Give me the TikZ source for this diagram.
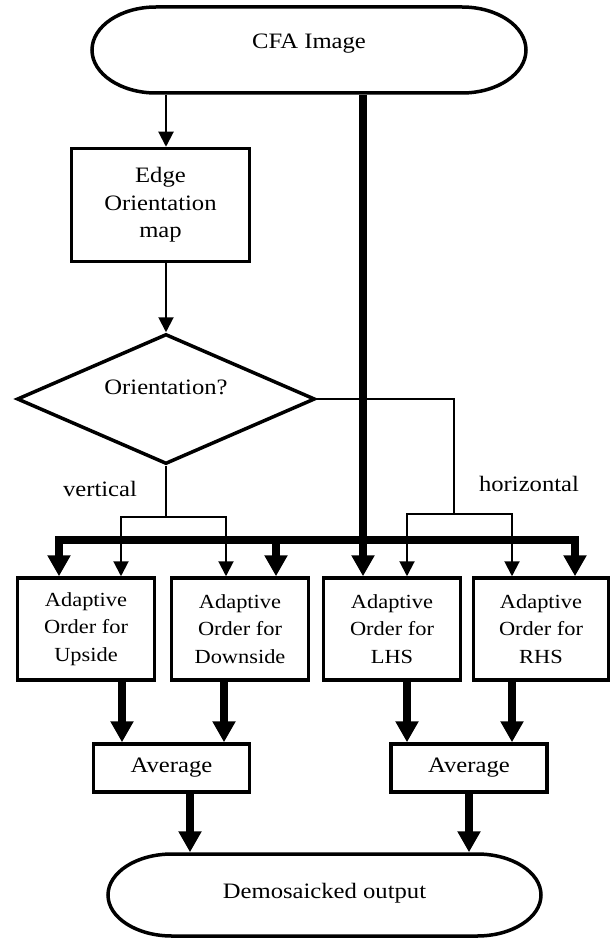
\documentclass[tikz,border=0pt]{standalone}
\usepackage{fontspec}
\setmainfont{Liberation Serif}[FakeStretch=1.12]
\usetikzlibrary{arrows.meta,shapes.geometric}
\begin{document}
\begin{tikzpicture}[x=1pt,y=1pt,
  boxnode/.style={draw, line width=3.5pt, rectangle, inner sep=0pt, align=center,
    font=\fontsize{20}{27.5}\selectfont},
  pillbox/.style={rectangle, inner sep=0pt, outer sep=1.75pt},
  pilline/.style={line width=3.5pt},
  thinline/.style={line width=2pt},
  thinarrow/.style={thinline, -{Triangle[width=15pt,length=15pt]}},
  thinboth/.style={thinline, {Triangle[width=15pt,length=15pt]}-{Triangle[width=15pt,length=15pt]}},
  thickline/.style={line width=7.5pt},
  thickarrow/.style={thickline, -{Triangle[width=22pt,length=21pt]}},
  thickboth/.style={thickline, {Triangle[width=22pt,length=21pt]}-{Triangle[width=22pt,length=21pt]}},
  txt/.style={font=\fontsize{22}{27.5}\selectfont, inner sep=0pt, anchor=base},
]
\useasboundingbox (0,0) rectangle (614,-939);

% top terminal
\node[pillbox, minimum width=434pt, minimum height=86pt] (cfa) at (309,-50) {};
\draw[pilline] (156,-7) -- (462,-7) arc[start angle=90,end angle=-90,x radius=64pt,y radius=43pt]
  -- (156,-93) arc[start angle=270,end angle=90,x radius=64pt,y radius=43pt] -- cycle;
\node[txt] (cfatext) at (309,-49) {CFA Image};

% edge orientation map
\node[boxnode, minimum width=178pt, minimum height=113pt,
  font=\fontsize{22}{27.5}\selectfont] (edge) at (160.5,-205) {Edge\\Orientation\\map};

% decision
\node[diamond, draw, line width=3.5pt, minimum width=298pt, minimum height=130pt,
  inner sep=0pt, shape aspect=2.3] (dia) at (166,-399) {};
\node[txt] (diatext) at (166,-394) {Orientation?};

% processing boxes
\node[boxnode, minimum width=137pt, minimum height=102pt] (b1) at (86,-629) {Adaptive\\Order for\\Upside};
\node[boxnode, minimum width=137pt, minimum height=102pt] (b2) at (240,-629) {Adaptive\\Order for\\Downside};
\node[boxnode, minimum width=137pt, minimum height=102pt] (b3) at (392,-629) {Adaptive\\Order for\\LHS};
\node[boxnode, minimum width=135pt, minimum height=102pt] (b4) at (541,-629) {Adaptive\\Order for\\RHS};

% averages
\node[boxnode, minimum width=156pt, minimum height=48pt, font=\fontsize{22}{27.5}\selectfont] (avg1) at (171.5,-768) {Average};
\node[boxnode, minimum width=156pt, minimum height=48pt, font=\fontsize{22}{27.5}\selectfont] (avg2) at (469,-768) {Average};

% bottom terminal
\node[pillbox, minimum width=433pt, minimum height=82pt] (out) at (324.5,-895) {};
\draw[pilline] (172,-854) -- (477,-854) arc[start angle=90,end angle=-90,x radius=64pt,y radius=41pt]
  -- (172,-936) arc[start angle=270,end angle=90,x radius=64pt,y radius=41pt] -- cycle;
\node[txt] (outtext) at (324.5,-898) {Demosaicked output};

% labels
\node[txt] (vlab) at (100,-496) {vertical};
\node[txt] (hlab) at (529,-491) {horizontal};

% coordinates
\coordinate (busL) at (59,-540);
\coordinate (busR) at (575,-540);
\coordinate (trunk) at (363,-540);
\coordinate (b2in) at (276,-540);
\coordinate (vj) at (166,-517);
\coordinate (vL) at (121,-517);
\coordinate (vR) at (226,-517);
\coordinate (hj) at (454,-399);
\coordinate (hjb) at (454,-514);
\coordinate (hL) at (407,-514);
\coordinate (hR) at (512,-514);

% thin connectors
\draw[thinarrow] (cfa.south -| dia.north) -- (edge.north -| dia.north);
\draw[thinarrow] (edge.south -| dia.north) -- (dia.north);
\draw[thinline] (dia.south) -- (vj);
\draw[thinboth] (vL |- b1.north) -- (vL) -- (vR) -- (vR |- b2.north);
\draw[thinline] (dia.east) -- (hj) -- (hjb);
\draw[thinboth] (hL |- b3.north) -- (hL) -- (hR) -- (hR |- b4.north);

% thick connectors
\draw[thickarrow] (cfa.south -| trunk) -- (b3.north -| trunk);
\draw[thickboth] (b1.north -| busL) -- (busL) -- (busR) -- (b4.north -| busR);
\draw[thickarrow] (b2in) -- (b2.north -| b2in);

\draw[thickarrow] (122,0 |- b1.south) -- (122,0 |- avg1.north);
\draw[thickarrow] (224,0 |- b2.south) -- (224,0 |- avg1.north);
\draw[thickarrow] (407,0 |- b3.south) -- (407,0 |- avg2.north);
\draw[thickarrow] (512,0 |- b4.south) -- (512,0 |- avg2.north);

\draw[thickarrow] (190,0 |- avg1.south) -- (190,0 |- out.north);
\draw[thickarrow] (469,0 |- avg2.south) -- (469,0 |- out.north);
\end{tikzpicture}
\end{document}
